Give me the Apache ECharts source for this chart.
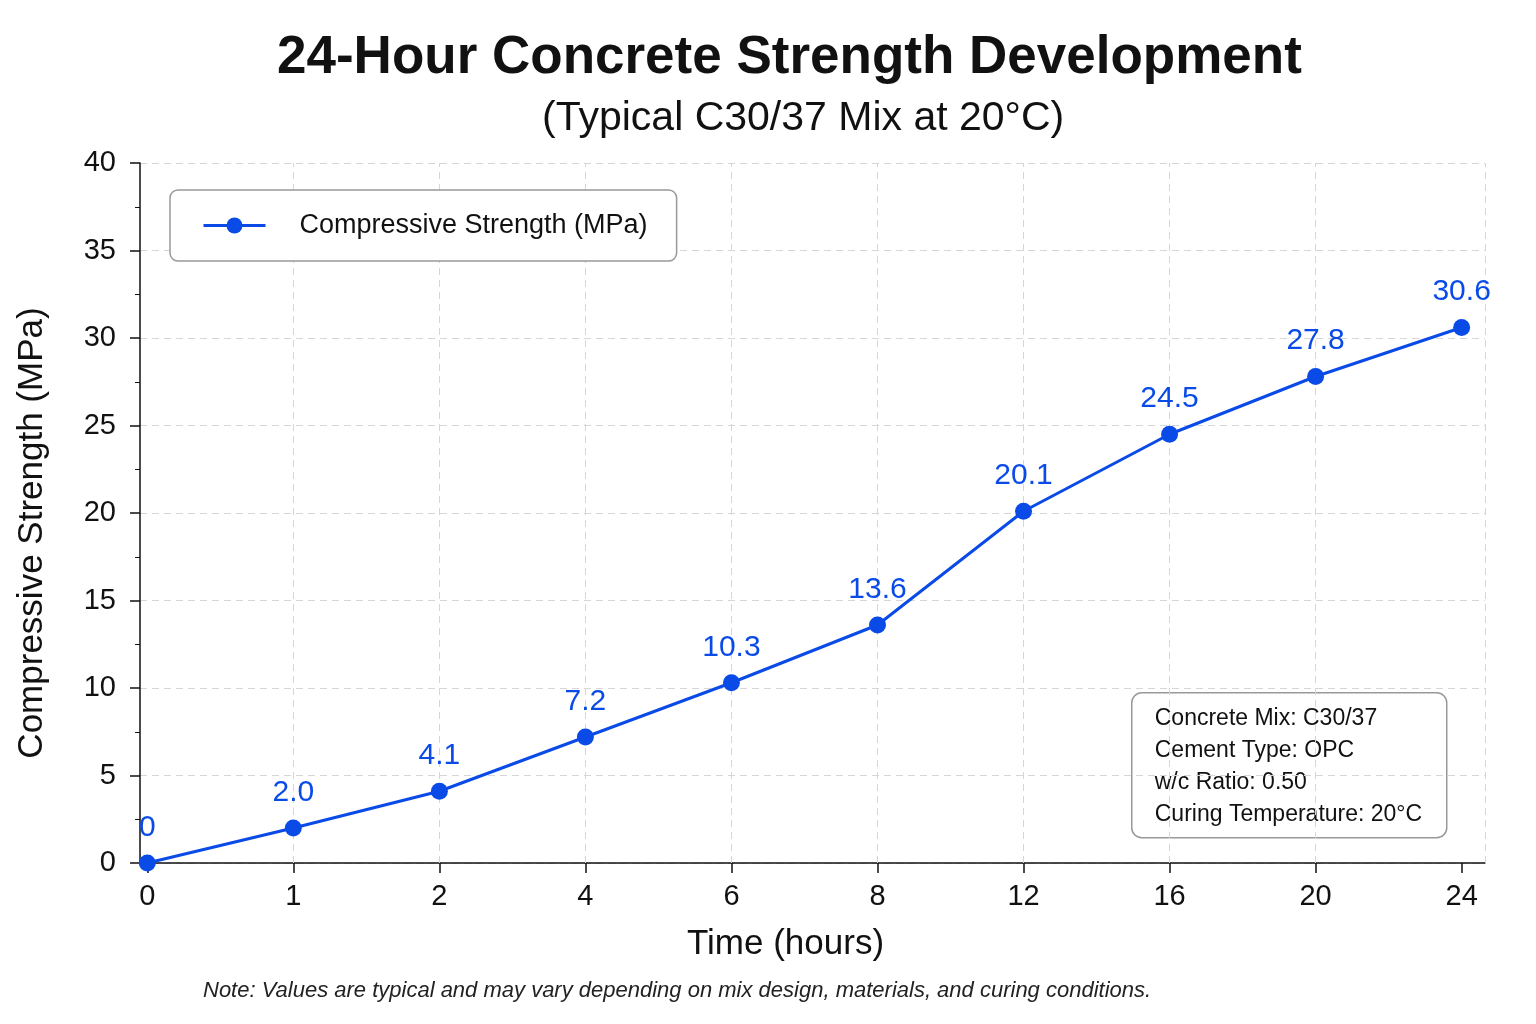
<!DOCTYPE html>
<html><head><meta charset="utf-8">
<script src="https://cdn.jsdelivr.net/npm/echarts@6/dist/echarts.min.js"></script>
<style>html,body{margin:0;padding:0;background:#fff}#c{width:1536px;height:1024px}</style>
</head><body><div id="c"></div>
<script>
const hours = ['0','1','2','4','6','8','12','16','20','24'];
const strength = [0, 2.0, 4.1, 7.2, 10.3, 13.6, 20.1, 24.5, 27.8, 30.6];
const yTicks = [0, 5, 10, 15, 20, 25, 30, 35, 40];
const infoLines = ['Concrete Mix: C30/37', 'Cement Type: OPC', 'w/c Ratio: 0.50', 'Curing Temperature: 20°C'];
const seriesName = 'Compressive Strength (MPa)';
const titleText = '24-Hour Concrete Strength Development';
const subtitleText = '(Typical C30/37 Mix at 20°C)';
const noteText = 'Note: Values are typical and may vary depending on mix design, materials, and curing conditions.';

const FONT = '"Liberation Sans", Arial, Helvetica, sans-serif';
const BLUE = '#0a4be8';
const X_MIN = -0.05, X_MAX = 9.16;
const idx = hours.map((h, i) => i);

const chart = echarts.init(document.getElementById('c'));
chart.setOption({
  backgroundColor: '#fff',
  animation: false,
  textStyle: { fontFamily: FONT },
  title: [
    { text: titleText, left: 272, top: 27,
      textStyle: { fontFamily: FONT, fontSize: 53, fontWeight: 'bold', color: '#111' } },
    { text: subtitleText, left: 537, top: 93,
      textStyle: { fontFamily: FONT, fontSize: 41, fontWeight: 'normal', color: '#111' } }
  ],
  legend: {
    left: 170, top: 190,
    padding: [22, 29, 22, 32],
    borderColor: '#999', borderWidth: 1.5, borderRadius: 8,
    backgroundColor: '#fff',
    itemWidth: 62, itemHeight: 20,
    lineStyle: { width: 3 },
    textStyle: { fontFamily: FONT, fontSize: 27, color: '#111', padding: [0, 0, 0, 29] },
    data: [seriesName]
  },
  grid: { left: 140, right: 51, top: 163, bottom: 161, containLabel: false },
  xAxis: {
    type: 'value', min: X_MIN, max: X_MAX,
    name: 'Time (hours)', nameLocation: 'middle', nameGap: 64,
    nameTextStyle: { fontFamily: FONT, fontSize: 35, color: '#111', padding: [0, 54, 0, 0] },
    axisLine: { show: true, onZero: false, lineStyle: { color: '#111', width: 1.5 } },
    axisTick: { show: true, customValues: idx, length: 10, lineStyle: { color: '#111', width: 1.5 } },
    axisLabel: { customValues: idx, formatter: v => hours[Math.round(v)], fontFamily: FONT, fontSize: 29, color: '#111', margin: 19 },
    splitLine: { show: false }
  },
  yAxis: {
    type: 'value', min: 0, max: 40, interval: 5,
    name: 'Compressive Strength (MPa)', nameLocation: 'middle', nameGap: 90,
    nameTextStyle: { fontFamily: FONT, fontSize: 35, color: '#111', padding: [0, 40, 0, 0] },
    axisLine: { show: true, onZero: false, lineStyle: { color: '#111', width: 1.5 } },
    axisTick: { show: true, length: 10, lineStyle: { color: '#111', width: 1.5 } },
    minorTick: { show: true, splitNumber: 2, length: 5, lineStyle: { color: '#111', width: 1 } },
    axisLabel: { fontFamily: FONT, fontSize: 29, color: '#111', margin: 24,
                 formatter: v => yTicks.includes(v) ? String(v) : '' },
    splitLine: { show: true, lineStyle: { color: '#d6d6d6', type: [7, 5], width: 1 } }
  },
  series: [{
    name: seriesName,
    type: 'line',
    data: strength.map((v, i) => [idx[i], v]),
    symbol: 'circle', symbolSize: 17,
    itemStyle: { color: BLUE },
    lineStyle: { color: BLUE, width: 3 },
    label: { show: true, position: 'top', distance: 12, color: BLUE, fontFamily: FONT, fontSize: 30,
             formatter: p => p.value[1] === 0 ? '0' : p.value[1].toFixed(1) },
    z: 5,
    markLine: {
      silent: true, symbol: ['none', 'none'], label: { show: false },
      lineStyle: { color: '#d6d6d6', type: [7, 5], width: 1 },
      data: idx.slice(1, -1).map(i => ({ xAxis: i })).concat([{ xAxis: X_MAX }]),
      z: 1
    }
  }],
  graphic: [
    {
      type: 'group', left: 1131, top: 692, z: 10,
      children: [
        { type: 'rect', shape: { x: 0, y: 0, width: 315, height: 145, r: 10 },
          style: { fill: '#fff', stroke: '#999', lineWidth: 1.5 } },
        { type: 'text', x: 23, y: 10,
          style: { text: infoLines.join('\n'), fontFamily: FONT, fontSize: 23, lineHeight: 32, fill: '#111' } }
      ]
    },
    {
      type: 'text', left: 203, top: 980,
      style: { text: noteText, fontFamily: FONT, fontSize: 22, fontStyle: 'italic', fill: '#222' }
    }
  ]
});
</script></body></html>
